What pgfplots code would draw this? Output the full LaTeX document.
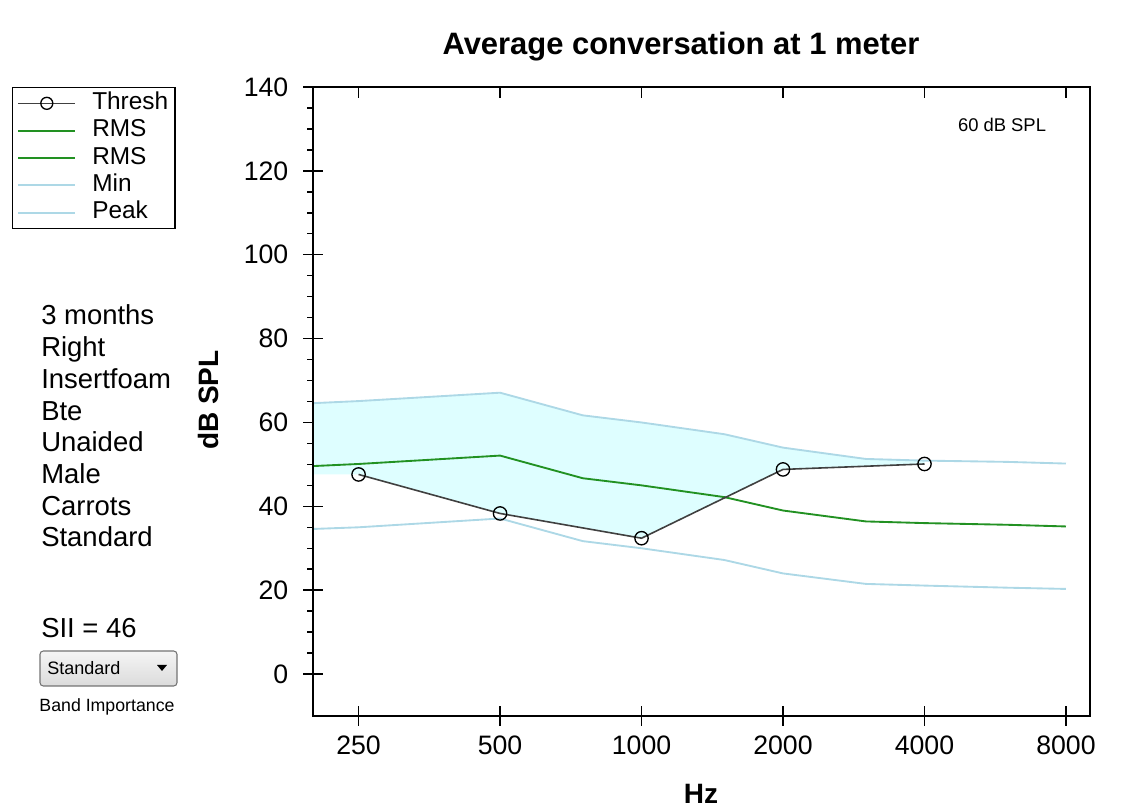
\documentclass[border=0pt]{standalone}
\usepackage{fontspec}
\setmainfont{Liberation Sans}
\usepackage{pgfplots}
\pgfplotsset{compat=1.18}
\definecolor{peakblue}{RGB}{173,216,230}
\definecolor{fillcyan}{RGB}{222,254,255}
\definecolor{rmsgreen}{RGB}{34,145,34}
\definecolor{threshgray}{RGB}{64,64,64}
\begin{document}
\begin{tikzpicture}
\path[use as bounding box] (0,0) rectangle (842.25pt,606.75pt);
\begin{axis}[
  at={(234.75pt,69.75pt)}, anchor=south west,
  width=582.75pt, height=471.75pt, scale only axis,
  xmode=log, log basis x=2,
  xmin=200, xmax=9000, ymin=-10, ymax=140,
  xtick={250,500,1000,2000,4000,8000},
  xticklabels={250,500,1000,2000,4000,8000},
  minor xtick={},
  ytick={0,20,...,140},
  minor y tick num=3,
  xtick pos=left, ytick pos=left,
  tick align=outside,
  major tick length=15pt,
  minor tick length=4.5pt,
  tick style={black, line width=1.1pt},
  every major y tick/.append style={xshift=7.5pt},
  every major x tick/.append style={yshift=7.5pt},
  axis line style={black, line width=1.4pt},
  /pgf/number format/assume math mode=true,
  ticklabel style={font=\fontsize{20}{24}\selectfont},
  xticklabel style={yshift=3.5pt},
  legend style={at={(-0.3874,1)}, anchor=north west, draw=black, line width=1pt,
    font=\fontsize{18.3}{20}\selectfont, inner xsep=3.5pt, inner ysep=2pt, row sep=1pt, column sep=10.5pt,
    nodes={inner sep=1.5pt, text height=13pt, text depth=3.5pt}},
  legend cell align=left,
  legend image code/.code={\draw[mark repeat=2,mark phase=2,#1] plot coordinates {(0pt,0pt) (21.4pt,0pt) (42.8pt,0pt)};},
]
% audible area (between peak and threshold)
\addplot[fill=fillcyan, draw=none, forget plot] coordinates {
 (200,64.6) (250,65.1) (500,67.1) (750,61.7) (1000,60.0) (1500,57.2) (2000,54.0) (3000,51.3) (4000,50.9)
 (4000,50.1) (2000,48.8) (1000,32.4) (500,38.3) (250,47.6) (200,47.6)} -- cycle;
% Min
\addplot[peakblue, line width=1.4pt, forget plot] coordinates {
 (200,34.6) (250,35.0) (500,37.1) (750,31.7) (1000,30.0) (1500,27.2) (2000,24.0) (3000,21.5) (4000,21.1) (6000,20.6) (8000,20.3)};
% Peak
\addplot[peakblue, line width=1.4pt, forget plot] coordinates {
 (200,64.6) (250,65.1) (500,67.1) (750,61.7) (1000,60.0) (1500,57.2) (2000,54.0) (3000,51.3) (4000,50.9) (6000,50.6) (8000,50.2)};
% RMS
\addplot[rmsgreen, line width=1.4pt, forget plot] coordinates {
 (200,49.6) (250,50.1) (500,52.1) (750,46.7) (1000,45.0) (1500,42.2) (2000,39.0) (3000,36.4) (4000,36.0) (6000,35.6) (8000,35.2)};
% Thresh
\addplot[threshgray, line width=1.2pt, mark=o, mark size=5pt,
  mark options={black, line width=1pt}, forget plot] coordinates {
 (250,47.6) (500,38.3) (1000,32.4) (2000,48.8) (4000,50.1)};
\addlegendimage{threshgray, line width=1.2pt, mark=o, mark size=4.5pt, mark options={black, line width=1pt}}
\addlegendentry{Thresh}
\addlegendimage{rmsgreen, line width=1.4pt}
\addlegendentry{RMS}
\addlegendimage{rmsgreen, line width=1.4pt}
\addlegendentry{RMS}
\addlegendimage{peakblue, line width=1.4pt}
\addlegendentry{Min}
\addlegendimage{peakblue, line width=1.4pt}
\addlegendentry{Peak}
\end{axis}
% top ticks (inward)
\begin{axis}[
  at={(234.75pt,69.75pt)}, anchor=south west,
  width=582.75pt, height=471.75pt, scale only axis,
  xmode=log, log basis x=2,
  xmin=200, xmax=9000, ymin=-10, ymax=140,
  xtick={250,500,1000,2000,4000,8000},
  xticklabels={}, minor xtick={}, ytick=\empty,
  xtick pos=right, tick align=inside,
  major tick length=8.25pt,
  tick style={black, line width=1.1pt},
  axis line style={black, line width=1.4pt},
]
\end{axis}
\begin{scope}[shift={(0pt,606.75pt)}, x=0.75pt, y=-0.75pt]
\node[font=\bfseries\fontsize{23.2}{27}\selectfont] at (681,47) {Average conversation at 1 meter};
\node[font=\bfseries\fontsize{21}{25}\selectfont, inner sep=0pt] at (701,794) {Hz};
\node[font=\bfseries\fontsize{21}{25}\selectfont, rotate=90] at (208,400) {dB SPL};
\node[font=\fontsize{13.8}{16}\selectfont] at (1002,125) {60 dB SPL};
\foreach \t [count=\i from 0] in {3 months,Right,Insertfoam,Bte,Unaided,Male,Carrots,Standard}{
  \node[anchor=base west, inner sep=0pt, font=\fontsize{20.6}{24}\selectfont] at (41,{325+31.7*\i}) {\t};
}
\node[anchor=base west, inner sep=0pt, font=\fontsize{20.6}{24}\selectfont] at (41,638) {SII = 46};
\shade[top color=white!96!black, bottom color=white!86!black, draw=black!55, rounded corners=2.5pt, line width=0.8pt] (40,651) rectangle (177,686);
\node[anchor=west, inner sep=0pt, font=\fontsize{13.5}{16}\selectfont] at (47,668.5) {Standard};
\fill[black] (157,665) -- (167,665) -- (162,671) -- cycle;
\node[font=\fontsize{13.3}{16}\selectfont] at (107,707) {Band Importance};
\end{scope}
\end{tikzpicture}
\end{document}
